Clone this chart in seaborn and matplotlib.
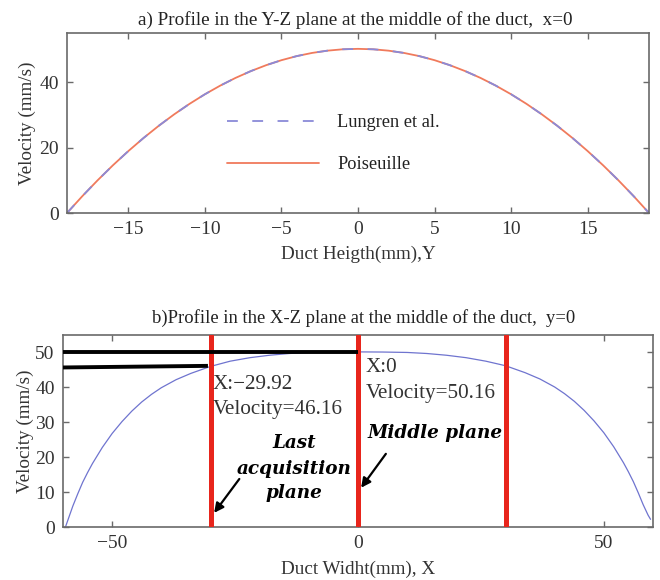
import matplotlib
matplotlib.use("Agg")
import matplotlib.pyplot as plt
import seaborn as sns
import pandas as pd

# ---------------- data ----------------
# Panel a: profile along duct height (Y, mm) -> velocity (mm/s)
height_y = [-19, -18, -17, -16, -15, -14, -13, -12, -11, -10, -9, -8, -7, -6, -5, -4, -3, -2, -1,
            0, 1, 2, 3, 4, 5, 6, 7, 8, 9, 10, 11, 12, 13, 14, 15, 16, 17, 18, 19]
vel_lungren = [0.0, 5.14, 10.0, 14.59, 18.9, 22.93, 26.68, 30.15, 33.35, 36.27, 38.91, 41.27, 43.35,
               45.16, 46.69, 47.94, 48.91, 49.6, 50.02, 50.16, 50.02, 49.6, 48.91, 47.94, 46.69, 45.16,
               43.35, 41.27, 38.91, 36.27, 33.35, 30.15, 26.68, 22.93, 18.9, 14.59, 10.0, 5.14, 0.0]
vel_poiseuille = [0.0, 5.14, 10.0, 14.59, 18.9, 22.93, 26.68, 30.15, 33.35, 36.27, 38.91, 41.27, 43.35,
                  45.16, 46.69, 47.94, 48.91, 49.6, 50.02, 50.16, 50.02, 49.6, 48.91, 47.94, 46.69, 45.16,
                  43.35, 41.27, 38.91, 36.27, 33.35, 30.15, 26.68, 22.93, 18.9, 14.59, 10.0, 5.14, 0.0]

# Panel b: profile along duct width (X, mm) -> velocity (mm/s)
width_x = [-59.5, -59, -58, -57, -56, -55, -54, -52, -50, -48, -46, -44, -42, -40, -37, -34, -30,
           -26, -22, -18, -14, -10, -5, 0, 5, 10, 14, 18, 22, 26, 30, 34, 37, 40, 42, 44, 46, 48,
           50, 52, 54, 55, 56, 57, 58, 59, 59.5]
vel_width = [0.0, 2.0, 6.0, 9.5, 12.8, 15.6, 18.2, 22.8, 26.8, 30.2, 33.2, 35.8, 38.0, 39.9, 42.2,
             44.0, 46.0, 47.5, 48.5, 49.2, 49.7, 50.0, 50.12, 50.16, 50.12, 50.0, 49.7, 49.2, 48.5,
             47.5, 46.2, 44.2, 42.4, 40.1, 38.2, 36.0, 33.4, 30.4, 27.0, 23.0, 18.4, 15.8, 13.0,
             9.8, 6.4, 3.4, 2.2]

planes_x = [-29.92, 0, 30]                 # red acquisition planes
marker_x = [-29.92, 0]                     # data tips
marker_v = [46.16, 50.16]

df_a = pd.DataFrame({"y": height_y, "lung": vel_lungren, "pois": vel_poiseuille})
df_b = pd.DataFrame({"x": width_x, "v": vel_width})

# ---------------- style ----------------
sns.set_style("ticks")
plt.rcParams['font.family'] = ['Liberation Serif', 'DejaVu Serif']
plt.rcParams['axes.edgecolor'] = '#6a6a6a'
plt.rcParams['axes.linewidth'] = 1.2
plt.rcParams['xtick.color'] = '#6a6a6a'
plt.rcParams['ytick.color'] = '#6a6a6a'
plt.rcParams['xtick.labelcolor'] = '#333333'
plt.rcParams['ytick.labelcolor'] = '#333333'
plt.rcParams['text.color'] = '#222222'
plt.rcParams['axes.labelcolor'] = '#333333'

FS = 13.8

fig = plt.figure(figsize=(6.6, 5.8), dpi=100)
ax1 = fig.add_axes([67/660, 1-213/580, 582/660, 180/580])
ax2 = fig.add_axes([63/660, 1-527/580, 590/660, 192/580])

for ax in (ax1, ax2):
    ax.tick_params(direction='in', top=True, right=True, length=4, width=1.0,
                   labelsize=14, pad=6)
    for s in ax.spines.values():
        s.set_visible(True)

# ---------------- panel a ----------------
sns.lineplot(data=df_a, x="y", y="pois", ax=ax1, color="#f07a5c", lw=1.3,
             label="Poiseuille", sort=False)
sns.lineplot(data=df_a, x="y", y="lung", ax=ax1, color="#8a8ad8", lw=1.3,
             label="Lungren et al.", sort=False, linestyle=(0, (6, 8)))
ax1.set_xlim(-19, 19)
ax1.set_ylim(0, 55)
ax1.set_xticks([-15, -10, -5, 0, 5, 10, 15])
ax1.set_yticks([0, 20, 40])
ax1.set_title("a) Profile in the Y-Z plane at the middle of the duct,  x=0",
              fontsize=FS, pad=6, x=0.495)
ax1.set_xlabel("Duct Heigth(mm),Y", fontsize=FS, labelpad=5)
ax1.set_ylabel("Velocity (mm/s)", fontsize=FS, labelpad=2)
h, l = ax1.get_legend_handles_labels()
ax1.legend([h[1], h[0]], [l[1], l[0]], loc='center left', bbox_to_anchor=(0.275, 0.385),
           frameon=False, fontsize=13.2, handlelength=5.0, handletextpad=1.0,
           labelspacing=1.35, borderpad=0, borderaxespad=0)

# ---------------- panel b ----------------
sns.lineplot(data=df_b, x="x", y="v", ax=ax2, color="#6f74cf", lw=0.9, sort=False)
for px in planes_x:
    ax2.axvline(px, color="#e8251c", lw=3.6, zorder=3)
ax2.plot([-60, marker_x[1]], [marker_v[1], marker_v[1]], color="black", lw=2.8, zorder=4,
         solid_capstyle='butt')
ax2.plot([-60, marker_x[0] - 0.6], [45.7, marker_v[0]], color="black", lw=2.8, zorder=4,
         solid_capstyle='butt')
ax2.set_xlim(-60, 60)
ax2.set_ylim(0, 55)
ax2.set_xticks([-50, 0, 50])
ax2.set_yticks([0, 10, 20, 30, 40, 50])
ax2.set_title("b)Profile in the X-Z plane at the middle of the duct,  y=0",
              fontsize=13.4, pad=9, x=0.51)
ax2.set_xlabel("Duct Widht(mm), X", fontsize=FS, labelpad=6)
ax2.set_ylabel("Velocity (mm/s)", fontsize=FS, labelpad=1)

AF = 15.2
ax2.text(-29.6, 40.8, "X:\u221229.92", fontsize=AF, va='center', ha='left', color='#333333')
ax2.text(-29.6, 33.6, "Velocity=46.16", fontsize=AF, va='center', ha='left', color='#333333')
ax2.text(1.5, 45.7, "X:0", fontsize=AF, va='center', ha='left', color='#333333')
ax2.text(1.5, 38.2, "Velocity=50.16", fontsize=AF, va='center', ha='left', color='#333333')

bi = dict(fontsize=13.2, fontweight='bold', fontstyle='italic', color='black',
          family=['DejaVu Serif'])
ax2.text(-13.0, 24.1, "Last", ha='center', va='center', **bi)
ax2.text(-13.0, 16.6, "acquisition", ha='center', va='center', **bi)
ax2.text(-13.0, 9.7, "plane", ha='center', va='center', **bi)
ax2.text(1.9, 27.0, "Middle plane", ha='left', va='center', **bi)

arrow = dict(arrowstyle='-|>', color='black', lw=1.6, mutation_scale=14)
ax2.annotate("", xy=(-29.6, 3.4), xytext=(-23.8, 14.4), arrowprops=arrow, zorder=5)
ax2.annotate("", xy=(0.3, 10.6), xytext=(6.0, 21.6), arrowprops=arrow, zorder=5)

fig.savefig("out.png", dpi=100)
